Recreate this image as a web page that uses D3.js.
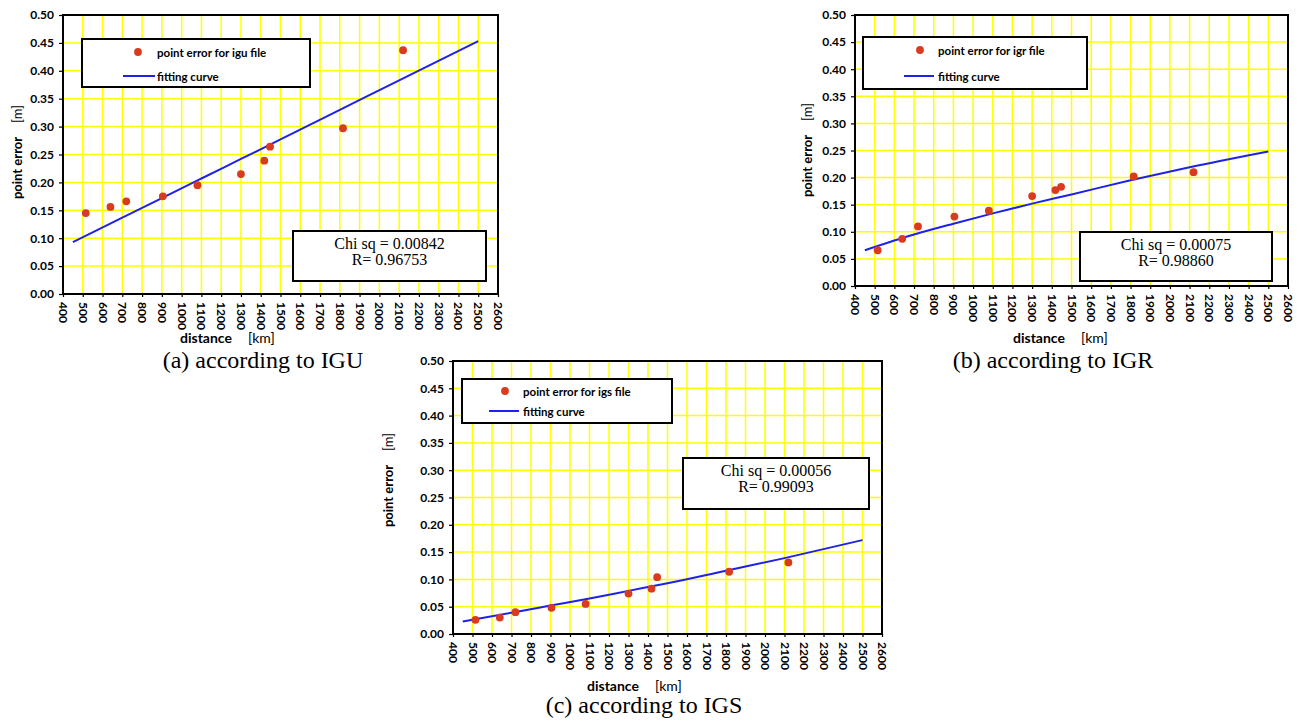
<!DOCTYPE html>
<html>
<head>
<meta charset="utf-8">
<script src="https://cdn.jsdelivr.net/npm/d3@7/dist/d3.min.js"></script>
<style>
  html, body { margin: 0; padding: 0; background: #fff; }
  svg { display: block; }
</style>
</head>
<body>
<svg id="chart" width="1310" height="722"></svg>
<script>
// ---------- data ----------
const distances = [515, 640, 720, 905, 1080, 1300, 1418, 1447, 1816, 2120];
const errIGU = [0.145, 0.156, 0.166, 0.175, 0.195, 0.215, 0.239, 0.264, 0.297, 0.437];
const errIGR = [0.066, 0.087, 0.110, 0.128, 0.139, 0.166, 0.177, 0.183, 0.202, 0.210];
const errIGS = [0.026, 0.030, 0.040, 0.048, 0.055, 0.074, 0.083, 0.104, 0.114, 0.131];

const fitDistances = [450, 700, 900, 1100, 1300, 1500, 1800, 2100, 2500];
const fitIGU = [0.093, 0.137, 0.172, 0.207, 0.242, 0.277, 0.330, 0.383, 0.453];
const fitIGR = [0.066, 0.095, 0.115, 0.134, 0.152, 0.169, 0.195, 0.219, 0.248];
const fitIGS = [0.023, 0.039, 0.052, 0.065, 0.079, 0.093, 0.116, 0.139, 0.172];

const xTicks = d3.range(400, 2601, 100);
const yTicks = d3.range(0, 0.5001, 0.05);

const pointLabels = ["point error for igu file", "point error for igr file", "point error for igs file"];
const fitLabel = "fitting curve";
const chiTexts = ["Chi sq = 0.00842", "Chi sq = 0.00075", "Chi sq = 0.00056"];
const rTexts = ["R= 0.96753", "R= 0.98860", "R= 0.99093"];
const captions = ["(a) according to IGU", "(b) according to IGR", "(c) according to IGS"];

// ---------- layout ----------
const panels = [
  { pts: errIGU, fit: fitIGU, i: 0,
    L: 63, R: 498, T: 15, B: 294,
    leg: [82, 39, 310, 87], dot: [138, 52], line: [123, 155, 76], txt: 157,
    chi: [293, 231, 486, 281], chiY: [249, 265],
    yl: [22, 152], xl: [180, 343], cap: [263, 368] },
  { pts: errIGR, fit: fitIGR, i: 1,
    L: 855, R: 1288, T: 15, B: 286,
    leg: [863, 37, 1087, 89], dot: [920, 50], line: [904, 934, 76], txt: 938,
    chi: [1080, 232, 1272, 281], chiY: [250, 266],
    yl: [812, 150], xl: [1013, 343], cap: [1053, 368] },
  { pts: errIGS, fit: fitIGS, i: 2,
    L: 453, R: 882, T: 361, B: 634,
    leg: [462, 379, 672, 423], dot: [505, 391], line: [489, 519, 411], txt: 523,
    chi: [683, 458, 869, 509], chiY: [476, 492],
    yl: [393, 480], xl: [587, 691], cap: [644, 713] }
];

const svg = d3.select("#chart");
const sans = "Lato, 'Open Sans', sans-serif";
const serif = "'Liberation Serif', 'DejaVu Serif', serif";
const dotColor = "#d83b1e";
const lineColor = "#1f22e6";
const gridColor = "#ffff00";

panels.forEach(p => {
  const g = svg.append("g");
  const x = d3.scaleLinear().domain([400, 2600]).range([p.L, p.R]);
  const y = d3.scaleLinear().domain([0, 0.5]).range([p.B, p.T]);

  // grid
  g.append("g").selectAll("line.v").data(xTicks.slice(1, -1)).join("line")
    .attr("x1", d => x(d)).attr("x2", d => x(d)).attr("y1", p.T).attr("y2", p.B)
    .attr("stroke", gridColor).attr("stroke-width", 1.5);
  g.append("g").selectAll("line.h").data(yTicks.slice(1, -1)).join("line")
    .attr("y1", d => y(d)).attr("y2", d => y(d)).attr("x1", p.L).attr("x2", p.R)
    .attr("stroke", gridColor).attr("stroke-width", 1.5);

  // axes
  const yAxis = d3.axisLeft(y).tickValues(yTicks).tickFormat(d3.format(".2f")).tickSize(4).tickPadding(5);
  const ya = g.append("g").attr("transform", `translate(${p.L},0)`).call(yAxis);
  ya.select(".domain").remove();
  ya.selectAll("line").attr("stroke", "#000").attr("stroke-width", 1.2);
  ya.selectAll("text").attr("font-family", sans).attr("font-weight", "bold")
    .attr("font-size", 12).attr("fill", "#000");

  const xAxis = d3.axisBottom(x).tickValues(xTicks).tickFormat(d3.format("d")).tickSize(3);
  const xa = g.append("g").attr("transform", `translate(0,${p.B})`).call(xAxis);
  xa.select(".domain").remove();
  xa.selectAll("line").attr("stroke", "#000").attr("stroke-width", 1.2);
  xa.selectAll("text")
    .attr("font-family", sans).attr("font-weight", "bold").attr("font-size", 12).attr("fill", "#000")
    .attr("text-anchor", "start").attr("dy", null)
    .attr("dominant-baseline", "central")
    .attr("transform", "translate(0,8) rotate(90)")
    .attr("y", 0).attr("x", 0);

  // frame
  g.append("rect").attr("x", p.L).attr("y", p.T).attr("width", p.R - p.L).attr("height", p.B - p.T)
    .attr("fill", "none").attr("stroke", "#000").attr("stroke-width", 2);

  // fitting curve
  const line = d3.line().x(d => x(d[0])).y(d => y(d[1])).curve(d3.curveMonotoneX);
  g.append("path").datum(fitDistances.map((d, k) => [d, p.fit[k]]))
    .attr("d", line).attr("fill", "none").attr("stroke", lineColor).attr("stroke-width", 2);

  // points
  g.append("g").selectAll("circle").data(distances.map((d, k) => [d, p.pts[k]])).join("circle")
    .attr("cx", d => x(d[0])).attr("cy", d => y(d[1])).attr("r", 3.9).attr("fill", dotColor);

  // legend
  const [lx0, ly0, lx1, ly1] = p.leg;
  g.append("rect").attr("x", lx0).attr("y", ly0).attr("width", lx1 - lx0).attr("height", ly1 - ly0)
    .attr("fill", "#fff").attr("stroke", "#000").attr("stroke-width", 2);
  g.append("circle").attr("cx", p.dot[0]).attr("cy", p.dot[1]).attr("r", 3.9).attr("fill", dotColor);
  g.append("text").attr("x", p.txt).attr("y", p.dot[1]).attr("dominant-baseline", "central")
    .attr("font-family", sans).attr("font-weight", "bold").attr("font-size", 11.5).text(pointLabels[p.i]);
  g.append("line").attr("x1", p.line[0]).attr("x2", p.line[1]).attr("y1", p.line[2]).attr("y2", p.line[2])
    .attr("stroke", lineColor).attr("stroke-width", 2);
  g.append("text").attr("x", p.txt).attr("y", p.line[2]).attr("dominant-baseline", "central")
    .attr("font-family", sans).attr("font-weight", "bold").attr("font-size", 11.5).text(fitLabel);

  // chi box
  const [cx0, cy0, cx1, cy1] = p.chi;
  g.append("rect").attr("x", cx0).attr("y", cy0).attr("width", cx1 - cx0).attr("height", cy1 - cy0)
    .attr("fill", "#fff").attr("stroke", "#000").attr("stroke-width", 2);
  const cmid = (cx0 + cx1) / 2;
  g.append("text").attr("x", cmid).attr("y", p.chiY[0]).attr("text-anchor", "middle")
    .attr("font-family", serif).attr("font-size", 16).text(chiTexts[p.i]);
  g.append("text").attr("x", cmid).attr("y", p.chiY[1]).attr("text-anchor", "middle")
    .attr("font-family", serif).attr("font-size", 16).text(rTexts[p.i]);

  // y label
  const yl = g.append("text").attr("transform", `translate(${p.yl[0]},${p.yl[1]}) rotate(-90)`)
    .attr("text-anchor", "middle").attr("font-family", sans).attr("font-size", 13);
  yl.append("tspan").attr("font-weight", "bold").text("point error");
  yl.append("tspan").attr("dx", 14).text("[m]");

  // x label
  const xl = g.append("text").attr("x", p.xl[0]).attr("y", p.xl[1])
    .attr("font-family", sans).attr("font-size", 14);
  xl.append("tspan").attr("font-weight", "bold").text("distance");
  xl.append("tspan").attr("dx", 16).text("[km]");

  // caption
  g.append("text").attr("x", p.cap[0]).attr("y", p.cap[1]).attr("text-anchor", "middle")
    .attr("font-family", serif).attr("font-size", 24).text(captions[p.i]);
});
</script>
</body>
</html>
